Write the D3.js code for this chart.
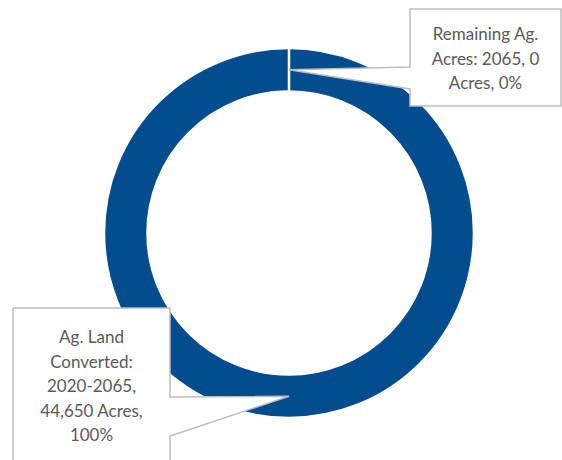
<!DOCTYPE html>
<html>
<head>
<meta charset="utf-8">
<script src="https://cdn.jsdelivr.net/npm/d3@7"></script>
<style>
  body { margin: 0; background: #fff; }
  svg { display: block; }
</style>
</head>
<body>
<svg id="chart" width="562" height="460"></svg>
<script>
// data
var categories = ["Remaining Ag. Acres: 2065", "Ag. Land Converted: 2020-2065"];
var acres = [0, 44650];
var shares = ["0%", "100%"];

var svg = d3.select("#chart");
var cx = 289, cy = 233;
var outerR = 185, innerR = 141.5;

var pie = d3.pie().sort(null).value(function(d) { return d.acres });
var arc = d3.arc().innerRadius(innerR).outerRadius(outerR);

var slices = pie(categories.map(function(c, i) {
    return { name: c, acres: acres[i], share: shares[i] }
}));

var g = svg.append("g").attr("transform", "translate(" + cx + "," + cy + ")");

g.selectAll("path.slice").data(slices).enter()
    .append("path")
    .attr("class", "slice")
    .attr("d", arc)
    .attr("fill", "#024C8F")
    .attr("stroke", "#fff")
    .attr("stroke-width", 2.5);

// zero slices would be hidden under the full ring, keep their edge on top
g.selectAll("path.slice").filter(function(d) { return d.value === 0 }).raise();

// callout boxes (box in page coords, pointer base on one side)
var boxes = [
    { x: 410, y: 9, w: 151, h: 97, side: "left", p0: 58, p1: 80 },
    { x: 13, y: 308, w: 157, h: 170, side: "right", p0: 89, p1: 128 }
];

var fmt = d3.format(",");

slices.forEach(function(s, i) {
    var b = boxes[i];
    var c = arc.centroid(s);
    var tx = cx + c[0], ty = cy + c[1];
    var pts;
    if (b.side === "left") {
        pts = [[b.x, b.y], [b.x + b.w, b.y], [b.x + b.w, b.y + b.h], [b.x, b.y + b.h],
               [b.x, b.y + b.p1], [tx, ty], [b.x, b.y + b.p0]];
    } else {
        pts = [[b.x, b.y], [b.x + b.w, b.y], [b.x + b.w, b.y + b.p0], [tx, ty],
               [b.x + b.w, b.y + b.p1], [b.x + b.w, b.y + b.h], [b.x, b.y + b.h]];
    }
    svg.append("path")
        .attr("d", "M" + pts.join("L") + "Z")
        .attr("fill", "#fff")
        .attr("stroke", "#BDBDBD")
        .attr("stroke-width", 1.5)
        .attr("stroke-linejoin", "miter");

    var label = s.data.name + ", " + fmt(s.data.acres) + " Acres, " + s.data.share;
    var words = label.split(" ");
    var text = svg.append("text")
        .attr("font-family", "Lato, 'Open Sans', sans-serif")
        .attr("font-size", 17)
        .attr("fill", "#595959")
        .attr("text-anchor", "middle");
    var maxW = b.w - 26;
    var lines = [], line = [];
    var probe = text.append("tspan");
    words.forEach(function(w) {
        line.push(w);
        probe.text(line.join(" "));
        if (probe.node().getComputedTextLength() > maxW && line.length > 1) {
            line.pop();
            lines.push(line.join(" "));
            line = [w];
        }
    });
    lines.push(line.join(" "));
    probe.remove();
    var lh = 24.6;
    var firstY = (i === 0) ? 40 : 343;
    lines.forEach(function(l, k) {
        text.append("tspan")
            .attr("x", b.x + b.w / 2)
            .attr("y", firstY + k * lh)
            .text(l);
    });
});
</script>
</body>
</html>
